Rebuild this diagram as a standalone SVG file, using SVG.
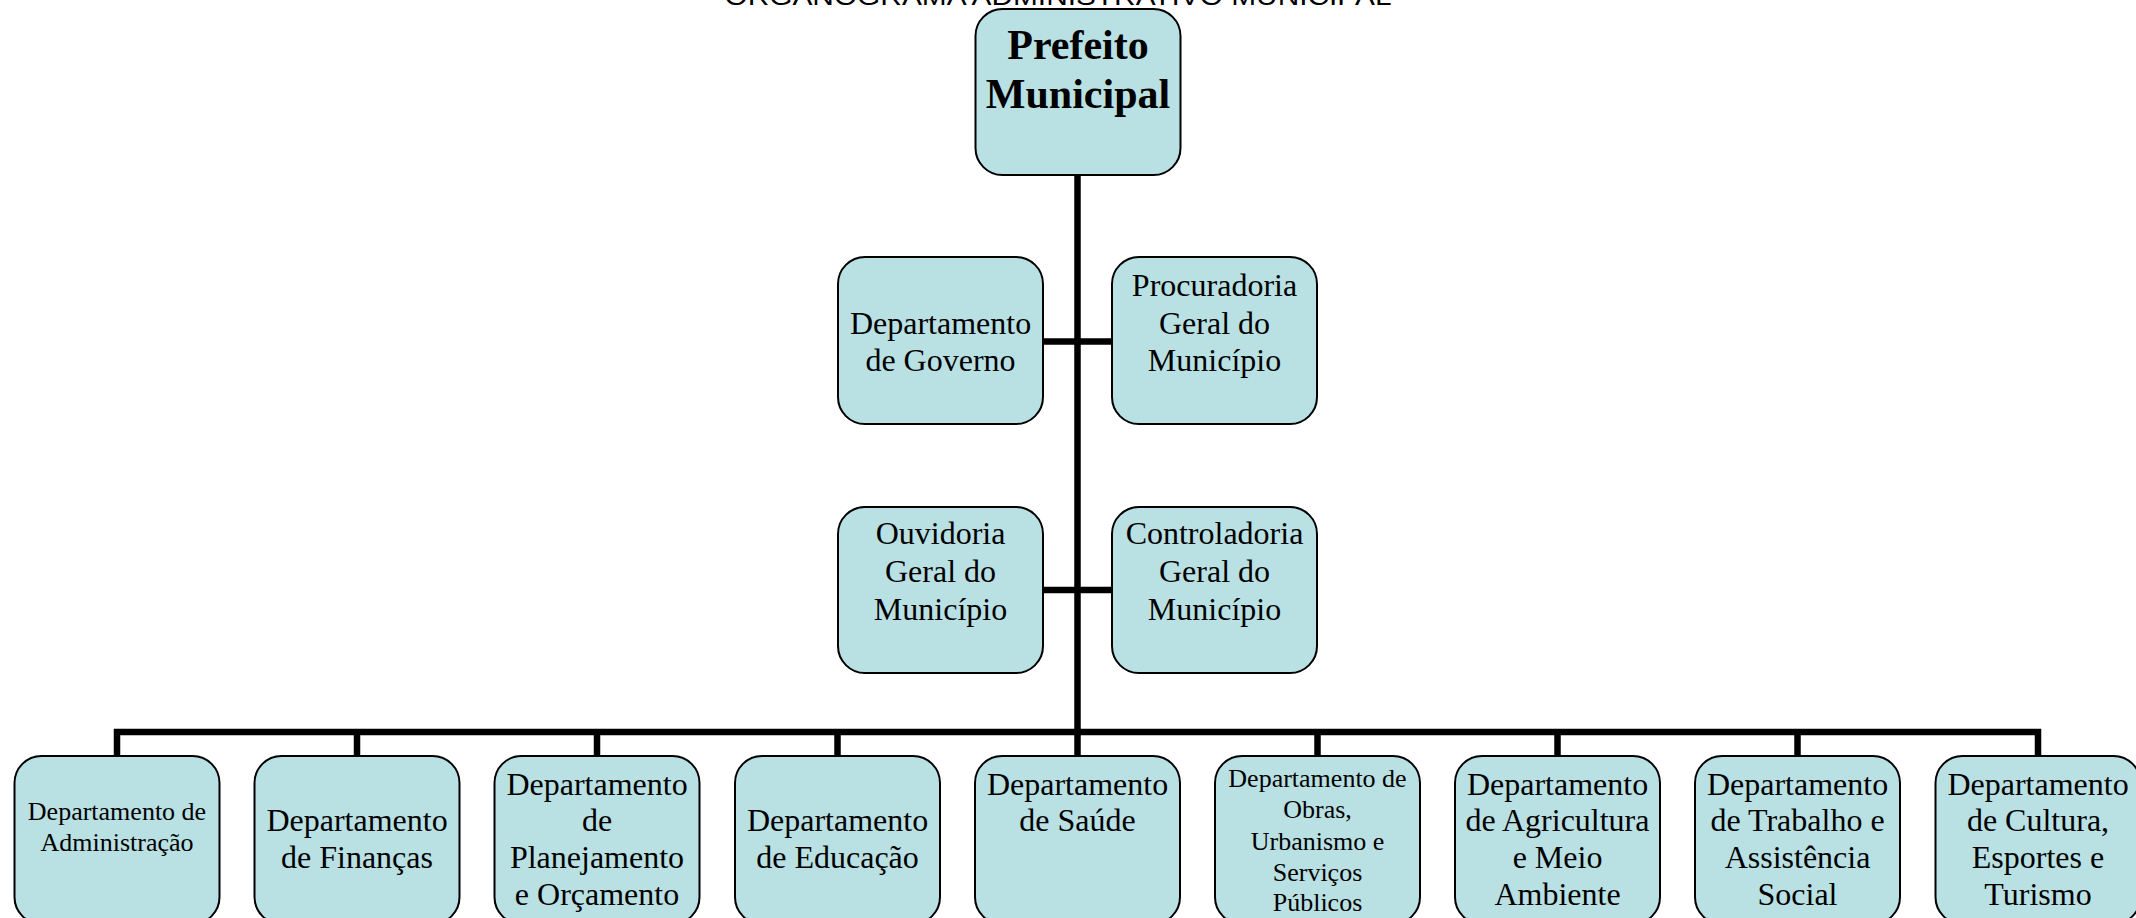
<svg xmlns="http://www.w3.org/2000/svg" width="2136" height="918" viewBox="0 0 2136 918">
<style>
.box{fill:#B9E0E3;stroke:#000;stroke-width:2}
.t{font-family:"Liberation Serif","Times New Roman",serif;font-size:32px;fill:#000;text-anchor:middle}
.s{font-size:26px}
.b{font-weight:bold;font-size:42px}
.title{font-family:"Liberation Sans",Arial,sans-serif;font-size:26px;fill:#000;text-anchor:middle}
.ln{stroke:#000;stroke-width:6.5;fill:none}
</style>
<rect width="2136" height="918" fill="#fff"/>
<text class="title" x="1058" y="5" textLength="667" lengthAdjust="spacingAndGlyphs">ORGANOGRAMA ADMINISTRATIVO MUNICIPAL</text>
<g id="connectors">
<line class="ln" x1="1077.5" y1="175" x2="1077.5" y2="732"/>
<line class="ln" x1="1043" y1="341.5" x2="1112" y2="341.5"/>
<line class="ln" x1="1043" y1="590" x2="1112" y2="590"/>
<polyline class="ln" points="117,756 117,732 2038,732 2038,756"/>
<line class="ln" x1="357" y1="732" x2="357" y2="756"/>
<line class="ln" x1="597" y1="732" x2="597" y2="756"/>
<line class="ln" x1="837.5" y1="732" x2="837.5" y2="756"/>
<line class="ln" x1="1077.5" y1="732" x2="1077.5" y2="756"/>
<line class="ln" x1="1317.5" y1="732" x2="1317.5" y2="756"/>
<line class="ln" x1="1557.5" y1="732" x2="1557.5" y2="756"/>
<line class="ln" x1="1797.5" y1="732" x2="1797.5" y2="756"/>
</g>
<g id="prefeito">
<rect class="box" x="975.5" y="9" width="205" height="166" rx="27"/>
<text class="t b" x="1078" y="59">Prefeito</text>
<text class="t b" x="1078" y="108">Municipal</text>
</g>
<g id="governo">
<rect class="box" x="838" y="257" width="205" height="167" rx="27"/>
<text class="t" x="940.5" y="334">Departamento</text>
<text class="t" x="940.5" y="371">de Governo</text>
</g>
<g id="procuradoria">
<rect class="box" x="1112" y="257" width="205" height="167" rx="27"/>
<text class="t" x="1214.5" y="296">Procuradoria</text>
<text class="t" x="1214.5" y="334">Geral do</text>
<text class="t" x="1214.5" y="371">Município</text>
</g>
<g id="ouvidoria">
<rect class="box" x="838" y="507" width="205" height="166" rx="27"/>
<text class="t" x="940.5" y="544">Ouvidoria</text>
<text class="t" x="940.5" y="582">Geral do</text>
<text class="t" x="940.5" y="620">Município</text>
</g>
<g id="controladoria">
<rect class="box" x="1112" y="507" width="205" height="166" rx="27"/>
<text class="t" x="1214.5" y="544">Controladoria</text>
<text class="t" x="1214.5" y="582">Geral do</text>
<text class="t" x="1214.5" y="620">Município</text>
</g>
<g id="administracao">
<rect class="box" x="14.5" y="756" width="205" height="168" rx="27"/>
<text class="t s" x="117" y="820">Departamento de</text>
<text class="t s" x="117" y="851">Administração</text>
</g>
<g id="financas">
<rect class="box" x="254.5" y="756" width="205" height="168" rx="27"/>
<text class="t" x="357" y="831">Departamento</text>
<text class="t" x="357" y="868">de Finanças</text>
</g>
<g id="planejamento">
<rect class="box" x="494.5" y="756" width="205" height="168" rx="27"/>
<text class="t" x="597" y="795">Departamento</text>
<text class="t" x="597" y="831">de</text>
<text class="t" x="597" y="868">Planejamento</text>
<text class="t" x="597" y="905">e Orçamento</text>
</g>
<g id="educacao">
<rect class="box" x="735" y="756" width="205" height="168" rx="27"/>
<text class="t" x="837.5" y="831">Departamento</text>
<text class="t" x="837.5" y="868">de Educação</text>
</g>
<g id="saude">
<rect class="box" x="975" y="756" width="205" height="168" rx="27"/>
<text class="t" x="1077.5" y="795">Departamento</text>
<text class="t" x="1077.5" y="831">de Saúde</text>
</g>
<g id="obras">
<rect class="box" x="1215" y="756" width="205" height="168" rx="27"/>
<text class="t s" x="1317.5" y="787">Departamento de</text>
<text class="t s" x="1317.5" y="818">Obras,</text>
<text class="t s" x="1317.5" y="850">Urbanismo e</text>
<text class="t s" x="1317.5" y="881">Serviços</text>
<text class="t s" x="1317.5" y="911">Públicos</text>
</g>
<g id="agricultura">
<rect class="box" x="1455" y="756" width="205" height="168" rx="27"/>
<text class="t" x="1557.5" y="795">Departamento</text>
<text class="t" x="1557.5" y="831">de Agricultura</text>
<text class="t" x="1557.5" y="868">e Meio</text>
<text class="t" x="1557.5" y="905">Ambiente</text>
</g>
<g id="trabalho">
<rect class="box" x="1695" y="756" width="205" height="168" rx="27"/>
<text class="t" x="1797.5" y="795">Departamento</text>
<text class="t" x="1797.5" y="831">de Trabalho e</text>
<text class="t" x="1797.5" y="868">Assistência</text>
<text class="t" x="1797.5" y="905">Social</text>
</g>
<g id="cultura">
<rect class="box" x="1935.5" y="756" width="205" height="168" rx="27"/>
<text class="t" x="2038" y="795">Departamento</text>
<text class="t" x="2038" y="831">de Cultura,</text>
<text class="t" x="2038" y="868">Esportes e</text>
<text class="t" x="2038" y="905">Turismo</text>
</g>
</svg>
